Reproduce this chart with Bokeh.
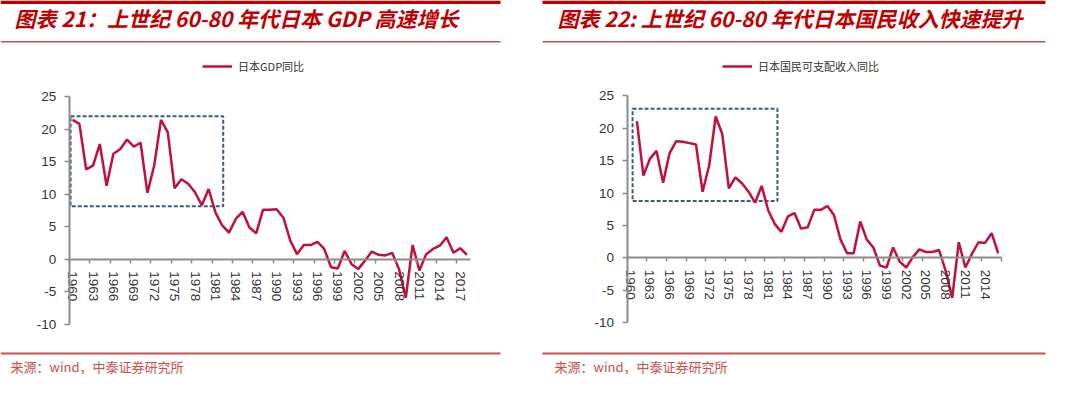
import math
from bokeh.plotting import figure
from bokeh.models import FixedTicker, Label, BoxAnnotation, Legend, LegendItem, Range1d
from bokeh.layouts import row
from bokeh.embed import file_html
from bokeh.resources import INLINE

# ---------------- data ----------------
gdp_categories = list(range(1960, 2019))
gdp_yoy = [21.4, 20.8, 13.8, 14.4, 17.7, 11.3, 16.2, 16.9, 18.4, 17.3,
           17.9, 10.2, 14.4, 21.4, 19.5, 10.9, 12.3, 11.6, 10.3, 8.3,
           10.8, 7.2, 5.2, 4.1, 6.2, 7.3, 4.9, 4.0, 7.6, 7.6,
           7.7, 6.4, 2.9, 0.8, 2.2, 2.2, 2.7, 1.6, -1.2, -1.4,
           1.3, -0.7, -1.5, -0.2, 1.2, 0.7, 0.6, 1.0, -1.5, -5.9,
           2.2, -1.7, 0.8, 1.6, 2.1, 3.4, 1.0, 1.7, 0.7]
gdp_years = gdp_categories

income_categories = list(range(1960, 2017))
income_years = list(range(1961, 2017))
income_yoy = [21.1, 12.7, 15.3, 16.5, 11.6, 16.2, 18.0, 17.9, 17.7, 17.5,
              10.2, 14.2, 21.8, 19.1, 10.7, 12.4, 11.5, 10.2, 8.5, 11.1,
              7.3, 5.2, 4.0, 6.4, 6.9, 4.5, 4.7, 7.4, 7.4, 8.0,
              6.6, 2.8, 0.7, 0.7, 5.6, 2.8, 1.6, -1.2, -1.5, 1.6,
              -0.6, -1.5, 0.1, 1.3, 0.9, 0.9, 1.2, -2.0, -6.2, 2.4,
              -1.5, 0.6, 2.4, 2.3, 3.8, 0.7]

gdp_tick_years = [1960, 1963, 1966, 1969, 1972, 1975, 1978, 1981, 1984, 1987,
                  1990, 1993, 1996, 1999, 2002, 2005, 2008, 2011, 2014, 2017]
income_tick_years = [1960, 1963, 1966, 1969, 1972, 1975, 1978, 1981, 1984, 1987,
                     1990, 1993, 1996, 1999, 2002, 2005, 2008, 2011, 2014]
y_ticks = [-10, -5, 0, 5, 10, 15, 20, 25]
y_tick_labels = ["-10", "-5", "0", "5", "10", "15", "20", "25"]

gdp_box_x = [1959.7, 1982.15]
gdp_box_y = [8.15, 21.95]
income_box_x = [1960.35, 1982.4]
income_box_y = [8.75, 23.0]

titles = ["图表 21：上世纪 60-80 年代日本 GDP 高速增长",
          "图表 22: 上世纪 60-80 年代日本国民收入快速提升"]
legend_labels = ["日本GDP同比", "日本国民可支配收入同比"]
source_text = "来源：wind，中泰证券研究所"

# ---------------- style ----------------
W, H = 532, 377
RED = "#C00000"
LINE_RED = "#C0103C"
THIN_RED = "#C8504D"
BOX_BLUE = "#3B5A86"
AXIS_GRAY = "#8C8C8C"
TEXT = "#333333"
CJK = "Noto Sans CJK SC"


def panel(cats, xs, ys, tick_years, box_x, box_y, title, legend_label,
          axis_px, ppy, top_px, ppu, title_x, line_l, line_r, legend_x, src_x):
    x0 = (cats[0] - 0.5) - axis_px / ppy
    y1 = 25 + top_px / ppu
    p = figure(width=W, height=H, output_backend="svg", toolbar_location=None,
               x_range=Range1d(x0, x0 + W / ppy), y_range=Range1d(y1 - H / ppu, y1),
               min_border=0, min_border_left=0, min_border_right=0,
               min_border_top=0, min_border_bottom=0)
    p.outline_line_color = None
    p.xgrid.visible = False
    p.ygrid.visible = False

    # x axis crossing at y = 0
    xa = p.xaxis[0]
    xa.fixed_location = 0
    xa.bounds = (cats[0] - 0.5, cats[-1] + 0.5)
    minor = [cats[0] - 0.5 + 3 * k for k in range(0, len(cats) // 3 + 1)]
    xa.ticker = FixedTicker(ticks=tick_years, minor_ticks=minor)
    xa.major_label_overrides = {t: str(t) for t in tick_years}
    xa.major_label_orientation = "vertical"
    xa.major_tick_line_color = None
    xa.major_tick_out = 0
    xa.major_tick_in = 0
    xa.minor_tick_line_color = AXIS_GRAY
    xa.minor_tick_line_width = 1.5
    xa.minor_tick_out = 4
    xa.minor_tick_in = 0
    xa.axis_line_color = AXIS_GRAY
    xa.axis_line_width = 2
    xa.major_label_standoff = 8
    xa.major_label_text_font = "Liberation Sans"
    xa.major_label_text_font_size = "13.5px"
    xa.major_label_text_color = TEXT

    ya = p.yaxis[0]
    ya.fixed_location = cats[0] - 0.5
    ya.bounds = (-10, 25)
    ya.ticker = FixedTicker(ticks=y_ticks)
    ya.major_label_overrides = {t: l for t, l in zip(y_ticks, y_tick_labels)}
    ya.minor_tick_line_color = None
    ya.major_tick_out = 5
    ya.major_tick_in = 0
    ya.major_tick_line_color = AXIS_GRAY
    ya.major_tick_line_width = 1.5
    ya.axis_line_color = AXIS_GRAY
    ya.axis_line_width = 2
    ya.major_label_standoff = 8
    ya.major_label_text_font = "Liberation Sans"
    ya.major_label_text_font_size = "13.5px"
    ya.major_label_text_color = TEXT

    # dashed highlight box
    p.quad(left=[box_x[0]], right=[box_x[1]], bottom=[box_y[0]], top=[box_y[1]],
           fill_color=None, line_color=BOX_BLUE, line_width=2, line_dash="4 2")

    r = p.line(xs, ys, line_color=LINE_RED, line_width=2.5)

    legend = Legend(items=[LegendItem(label=legend_label, renderers=[r])],
                    location=(legend_x, H - 74), border_line_color=None,
                    background_fill_alpha=0, padding=0, margin=0,
                    glyph_width=30, glyph_height=14, label_height=14,
                    label_standoff=6, label_text_font=CJK,
                    label_text_font_size="11px", label_text_color=TEXT)
    p.add_layout(legend)

    # title and decorative rules
    p.add_layout(BoxAnnotation(left=line_l, right=line_r, top=H, bottom=H - 3.5,
                               left_units="screen", right_units="screen",
                               top_units="screen", bottom_units="screen",
                               fill_color=RED, fill_alpha=1, line_color=None))
    p.add_layout(Label(x=title_x, y=H - 17, x_units="screen", y_units="screen",
                       text=title, text_font=CJK, text_font_style="bold italic",
                       text_font_size="21px", text_color=RED, text_baseline="middle"))
    p.add_layout(BoxAnnotation(left=line_l, right=line_r, top=H - 40.5, bottom=H - 42,
                               left_units="screen", right_units="screen",
                               top_units="screen", bottom_units="screen",
                               fill_color=THIN_RED, fill_alpha=1, line_color=None))
    p.add_layout(BoxAnnotation(left=line_l, right=line_r, top=H - 352, bottom=H - 354,
                               left_units="screen", right_units="screen",
                               top_units="screen", bottom_units="screen",
                               fill_color=THIN_RED, fill_alpha=1, line_color=None))
    p.add_layout(Label(x=src_x, y=H - 366, x_units="screen", y_units="screen",
                       text=source_text, text_font=CJK, text_font_size="13px",
                       text_color=THIN_RED, text_baseline="middle"))
    return p


left = panel(gdp_categories, gdp_years, gdp_yoy, gdp_tick_years, gdp_box_x, gdp_box_y,
             titles[0], legend_labels[0],
             axis_px=68.7, ppy=6.80, top_px=96.0, ppu=6.514,
             title_x=14, line_l=0, line_r=500, legend_x=202, src_x=10)
right = panel(income_categories, income_years, income_yoy, income_tick_years,
              income_box_x, income_box_y, titles[1], legend_labels[1],
              axis_px=94.5, ppy=6.57, top_px=95.3, ppu=6.48,
              title_x=25, line_l=10, line_r=513, legend_x=190, src_x=22)

layout = row(left, right, spacing=0)
open("out.html", "w").write(file_html(layout, INLINE))
